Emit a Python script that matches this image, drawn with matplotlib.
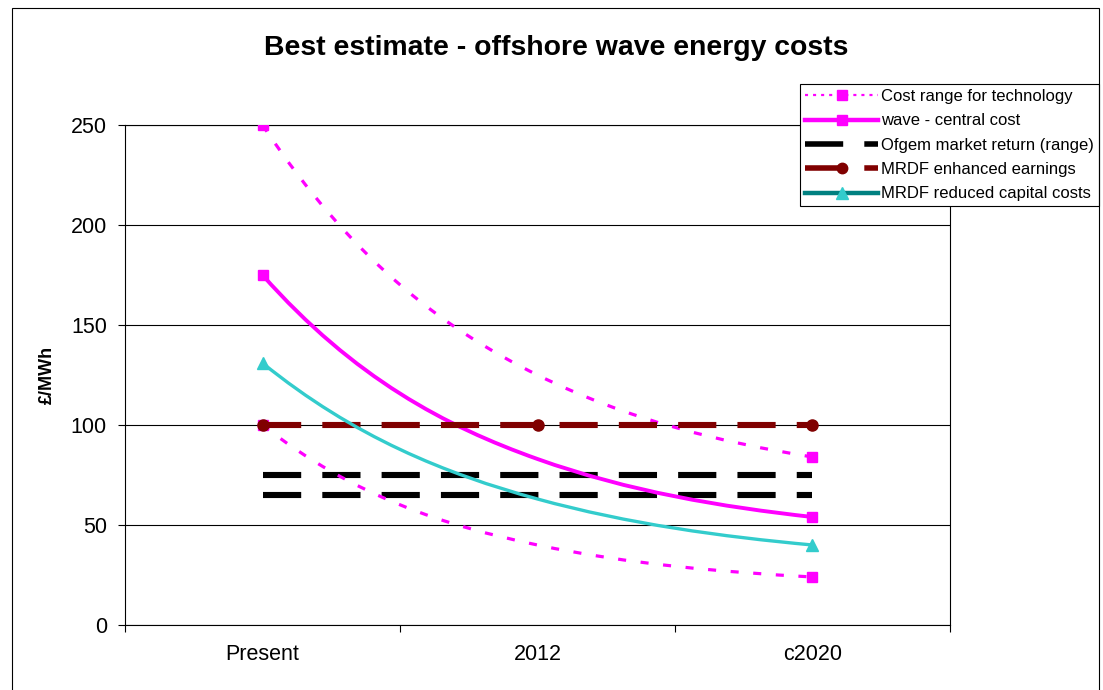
import numpy as np
import matplotlib
matplotlib.use("Agg")
import matplotlib.pyplot as plt
from matplotlib.path import Path
from matplotlib.patches import PathPatch, Rectangle
from matplotlib.lines import Line2D

plt.rcParams['font.family'] = ['Liberation Sans', 'DejaVu Sans']
plt.rcParams['lines.scale_dashes'] = False

# ---- data ----
categories = ["Present", "2012", "c2020"]
cost_high = [250, 125, 84]
cost_low = [100, 40, 24]
wave_central = [175, 83, 54]
ofgem_high = [75, 75, 75]
ofgem_low = [65, 65, 65]
mrdf_earnings = [100, 100, 100]
mrdf_capital = [131, 63, 40]
y_ticks = [0, 50, 100, 150, 200, 250]

PINK = '#FF00FF'
CYAN = '#33CCCC'
TEAL = '#008080'
MAROON = '#800000'


def decay_tangents(ys):
    """Node slopes for a smooth line whose steps shrink by a steady ratio."""
    ys = np.asarray(ys, dtype=float)
    d = np.diff(ys)
    n = len(ys)
    est = [[] for _ in range(n)]
    for i in range(n - 1):
        if i + 1 < n - 1:
            r = d[i + 1] / d[i] if d[i] != 0 else 1.0
        else:
            r = d[i] / d[i - 1] if (i > 0 and d[i - 1] != 0) else 1.0
        if 0 < r < 1:
            c = -np.log(r)
            est[i].append(d[i] * c / (1 - r))
            est[i + 1].append(d[i] * c * r / (1 - r))
        else:
            est[i].append(d[i])
            est[i + 1].append(d[i])
    return np.array([np.mean(e) for e in est])


def smooth_path(xs, ys):
    xs = np.asarray(xs, dtype=float)
    ys = np.asarray(ys, dtype=float)
    m = decay_tangents(ys)
    verts = [(xs[0], ys[0])]
    codes = [Path.MOVETO]
    for i in range(len(xs) - 1):
        h = xs[i + 1] - xs[i]
        verts += [(xs[i] + h / 3, ys[i] + m[i] * h / 3),
                  (xs[i + 1] - h / 3, ys[i + 1] - m[i + 1] * h / 3),
                  (xs[i + 1], ys[i + 1])]
        codes += [Path.CURVE4] * 3
    return Path(verts, codes)


fig = plt.figure(figsize=(11.03, 6.9), dpi=100)
ax = fig.add_axes([125 / 1103, 65 / 690, 825 / 1103, 500 / 690])
x = np.arange(len(categories))
ends = [0, len(categories) - 1]

# Ofgem market return range
dash_long = (0, (27.5, 15.2))
for vals in (ofgem_high, ofgem_low):
    ax.plot(x, vals, color='black', lw=4.4, linestyle=dash_long,
            dash_capstyle='butt', zorder=3)

# Cost range for technology (dotted)
for vals in (cost_high, cost_low):
    ax.add_patch(PathPatch(smooth_path(x, vals), fill=False, edgecolor=PINK,
                           lw=2.3, linestyle=(0, (5.8, 10.5)), zorder=4))
    ax.plot(x[ends], np.asarray(vals)[ends], ls='none', marker='s', ms=7.5,
            color=PINK, zorder=4)

# wave central cost
ax.add_patch(PathPatch(smooth_path(x, wave_central), fill=False,
                       edgecolor=PINK, lw=2.8, zorder=5))
ax.plot(x[ends], np.asarray(wave_central)[ends], ls='none', marker='s',
        ms=7.5, color=PINK, zorder=5)

# MRDF enhanced earnings
ax.plot(x, mrdf_earnings, color=MAROON, lw=4.4, linestyle=dash_long,
        dash_capstyle='butt', marker='o', ms=8, zorder=6)

# MRDF reduced capital costs
ax.add_patch(PathPatch(smooth_path(x, mrdf_capital), fill=False,
                       edgecolor=CYAN, lw=2.4, zorder=7))
ax.plot(x[ends], np.asarray(mrdf_capital)[ends], ls='none', marker='^',
        ms=9, color=CYAN, zorder=7)

# axes styling
ax.set_xlim(-0.5, 2.5)
ax.set_ylim(0, 250)
ax.set_yticks(y_ticks)
ax.set_xticks(x)
ax.set_xticklabels(categories)
ax.set_xticks([-0.5, 0.5, 1.5, 2.5], minor=True)
ax.tick_params(axis='y', direction='out', length=5, width=0.8,
               labelsize=15.5, pad=8, colors='black')
ax.tick_params(axis='x', which='major', length=0, labelsize=15.5, pad=13.5)
ax.tick_params(axis='x', which='minor', direction='out', length=5, width=0.8)
for s in ax.spines.values():
    s.set_color('black')
    s.set_linewidth(0.8)
ax.yaxis.grid(True, color='black', lw=0.8)
ax.set_axisbelow(True)

# titles
fig.text(556 / 1103, 1 - 48 / 690, "Best estimate - offshore wave energy costs",
         ha='center', va='center', fontsize=20.4, fontweight='bold')
fig.text(47 / 1103, 1 - 375 / 690, "£/MWh", rotation=90, ha='center',
         va='center', fontsize=13, fontweight='bold')

# outer chart border
fig.patches.append(Rectangle((12 / 1103, -0.05), (1099 - 12) / 1103,
                             (1 - 8 / 690) + 0.05, transform=fig.transFigure,
                             fill=False, edgecolor='black', lw=0.8))

# legend
handles = [
    Line2D([], [], color=PINK, lw=1.6, linestyle=(0, (2.2, 3.6)), marker='s',
           ms=7.5),
    Line2D([], [], color=PINK, lw=3.2, marker='s', ms=7.5),
    Line2D([], [], color='black', lw=4.0, linestyle=(0, (27.5, 15.2)),
           dash_capstyle='butt'),
    Line2D([], [], color=MAROON, lw=4.0, linestyle=(0, (27.5, 15.2)),
           dash_capstyle='butt', marker='o', ms=7.5),
    Line2D([], [], color=TEAL, lw=3.2, marker='^', ms=9,
           markerfacecolor=CYAN, markeredgecolor=CYAN),
]
labels = ["Cost range for technology", "wave - central cost",
          "Ofgem market return (range)", "MRDF enhanced earnings",
          "MRDF reduced capital costs"]
leg = ax.legend(handles, labels, loc='upper right',
                bbox_to_anchor=(1099 / 1103, 1 - 84 / 690),
                bbox_transform=fig.transFigure, borderaxespad=0,
                fontsize=12, handlelength=4.37, handletextpad=0.18,
                borderpad=0.3, labelspacing=0.56, numpoints=1,
                fancybox=False, framealpha=1, edgecolor='black')
leg.get_frame().set_linewidth(0.8)
leg.set_zorder(10)

fig.savefig("out.png", dpi=100)
